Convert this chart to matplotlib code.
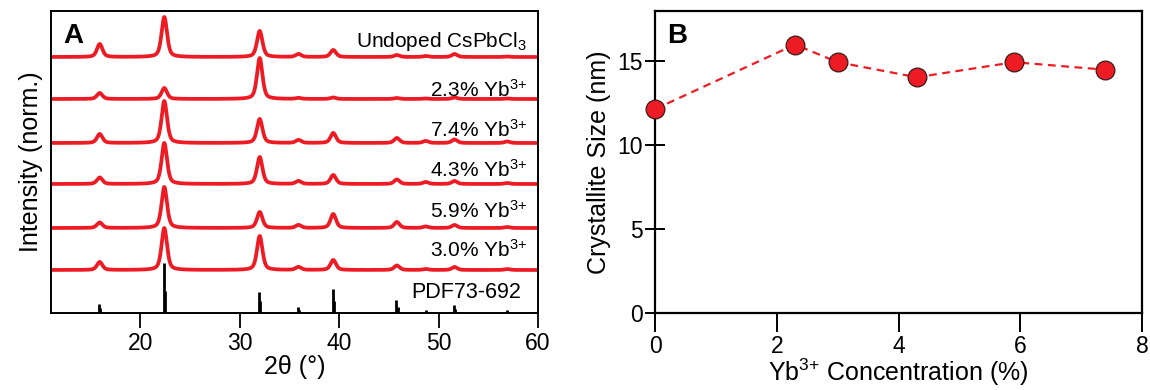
import numpy as np
import matplotlib
matplotlib.use("Agg")
import matplotlib.pyplot as plt

plt.rcParams['font.family'] = ['Liberation Sans', 'DejaVu Sans']
plt.rcParams['mathtext.fontset'] = 'custom'
plt.rcParams['mathtext.rm'] = 'Liberation Sans'
plt.rcParams['mathtext.it'] = 'Liberation Sans:italic'
plt.rcParams['mathtext.bf'] = 'Liberation Sans:bold'

RED = '#ED1C24'

# ---------------- Panel A data: XRD peaks ----------------
peak_pos = [15.9, 22.4, 32.0, 35.9, 39.4, 45.8, 48.7, 51.6, 56.9]
sample_labels = ['Undoped CsPbCl$_3$', '2.3% Yb$^{3{+}}$', '7.4% Yb$^{3{+}}$',
                 '4.3% Yb$^{3{+}}$', '5.9% Yb$^{3{+}}$', '3.0% Yb$^{3{+}}$']
sample_offsets = [256, 214, 170, 129, 85, 43]
peak_heights_undoped = [13, 40, 26, 3, 7, 2, 1, 3, 0.5]
peak_heights_2p3 = [6, 11, 41, 1, 1.5, 1, 0.5, 1.5, 0.5]
peak_heights_7p4 = [9, 42, 24, 3, 10, 5, 2, 3.5, 1.5]
peak_heights_4p3 = [6.5, 41, 27, 3, 9, 4.5, 2, 3, 1]
peak_heights_5p9 = [5.5, 41, 16, 3, 14, 6, 1.5, 3, 1]
peak_heights_3p0 = [8, 42, 34, 3, 10, 4.5, 1, 3, 1]
sample_heights = [peak_heights_undoped, peak_heights_2p3, peak_heights_7p4,
                  peak_heights_4p3, peak_heights_5p9, peak_heights_3p0]
label_y = [266, 216, 176, 136, 95, 56]

pdf_pos = [15.85, 22.35, 31.95, 35.85, 39.35, 45.75, 48.7, 51.55, 56.9, 59.3]
pdf_h = [9, 50, 21, 6, 24, 13, 3, 8, 3, 1.5]
pdf_pos2 = [15.95, 22.5, 32.05, 35.95, 39.45, 45.9, 51.65]
pdf_h2 = [5, 22, 12, 3, 12, 6, 4]
pdf_label = 'PDF73-692'

# ---------------- Panel B data ----------------
yb_conc = [0, 2.3, 3.0, 4.3, 5.9, 7.4]
cryst_size = [12.15, 16.0, 14.95, 14.05, 14.95, 14.5]


def profile(x, centers, heights, fwhm=0.65, eta=0.5):
    y = np.zeros_like(x)
    s = fwhm / 2.3548
    g = fwhm / 2
    for c, h in zip(centers, heights):
        gauss = np.exp(-0.5 * ((x - c) / s) ** 2)
        lor = 1.0 / (1 + ((x - c) / g) ** 2)
        y += h * ((1 - eta) * gauss + eta * lor)
    return y


fig = plt.figure(figsize=(11.5, 3.9), dpi=100)
axA = fig.add_axes([51/1150, 77/390, 487/1150, 302/390])
axB = fig.add_axes([655/1150, 77/390, 487/1150, 302/390])

# ---- Panel A ----
x = np.linspace(11, 60, 3000)
for off, hts, lab, ly in zip(sample_offsets, sample_heights, sample_labels, label_y):
    axA.plot(x, off + profile(x, peak_pos, hts), color=RED, lw=2.7,
             solid_joinstyle='round')
    axA.text(58.9, ly, lab, ha='right', va='baseline', fontsize=15)

axA.vlines(pdf_pos, 0, pdf_h, color='black', lw=2.0)
axA.vlines(pdf_pos2, 0, pdf_h2, color='black', lw=2.0)
axA.text(58.3, 15, pdf_label, ha='right', va='baseline', fontsize=15.5)

axA.set_xlim(11, 60)
axA.set_ylim(0, 302)
axA.set_yticks([])
axA.set_xticks([20, 30, 40, 50, 60])
axA.tick_params(axis='x', direction='out', length=10.5, width=1.3,
                labelsize=16.5, pad=3)
axA.set_xlabel('2θ (°)', fontsize=18, labelpad=0)
axA.set_ylabel('Intensity (norm.)', fontsize=18, labelpad=6)
for sp in axA.spines.values():
    sp.set_linewidth(1.4)
axA.text(0.025, 0.96, 'A', transform=axA.transAxes, fontsize=20,
         fontweight='bold', ha='left', va='top')

# ---- Panel B ----
axB.plot(yb_conc, cryst_size, color=RED, lw=1.6, ls=(0, (3.5, 2.5)),
         marker='o', ms=13.5, mfc=RED, mec='#3a1a1a', mew=0.9, clip_on=False,
         zorder=5)
axB.set_xlim(0, 8)
axB.set_ylim(0, 18)
axB.set_xticks([0, 2, 4, 6, 8])
axB.set_yticks([0, 5, 10, 15])
axB.tick_params(axis='x', direction='out', length=14, width=1.4,
                labelsize=16.5, pad=2)
axB.tick_params(axis='y', direction='inout', length=14, width=1.4,
                labelsize=16.5, pad=2)
axB.set_xlabel('Yb$^{3{+}}$ Concentration (%)', fontsize=18, labelpad=-1)
axB.set_ylabel('Crystallite Size (nm)', fontsize=18, labelpad=4)
for sp in axB.spines.values():
    sp.set_linewidth(1.6)
axB.text(0.025, 0.96, 'B', transform=axB.transAxes, fontsize=20,
         fontweight='bold', ha='left', va='top')

fig.savefig('out.png', dpi=100)
